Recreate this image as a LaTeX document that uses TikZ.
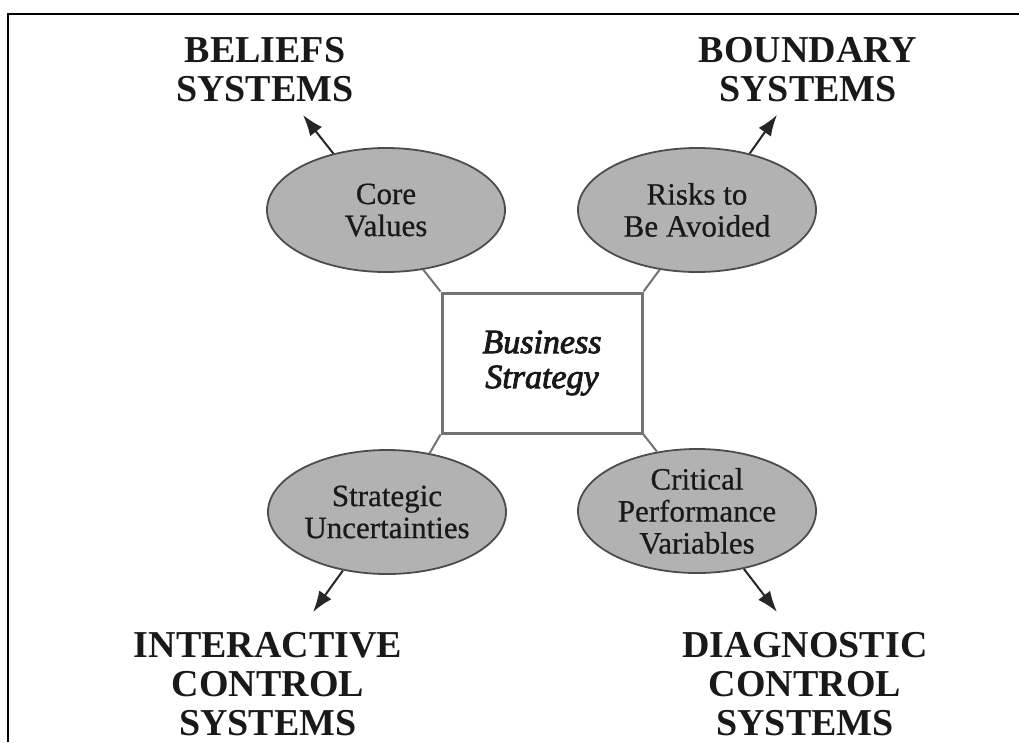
\documentclass[tikz,border=0pt]{standalone}
\usepackage{fontspec}
\setmainfont{Liberation Serif}
\newfontface\strategyfont[FakeBold=2.5]{Liberation Serif Italic}
\newfontface\leverfont[FakeBold=0.6]{Liberation Serif}
\usetikzlibrary{shapes.geometric,arrows.meta}
\begin{document}
\begin{tikzpicture}[x=1pt,y=-1pt,
  lever/.style={ellipse, draw=black!70, line width=1.8pt, fill=black!30,
    minimum width=238pt, minimum height=124pt, inner sep=0pt, align=center,
    font=\leverfont\fontsize{31}{32}\selectfont, text=black!90},
  heading/.style={align=center, inner sep=0pt,
    font=\fontsize{38}{39}\selectfont\bfseries, text=black!90},
  core/.style={draw=black!55, line width=3pt, fill=white,
    minimum width=200pt, minimum height=140pt, inner sep=0pt, align=center,
    font=\strategyfont\fontsize{34}{35}\selectfont, text=black!90},
  link/.style={draw=black!55, line width=2pt},
  pointer/.style={draw=black!85, line width=2pt, -{Latex[length=21pt,width=15pt]}}
]
\useasboundingbox (0,0) rectangle (1019,742);
\fill[white] (0,0) rectangle (1019,742);
% frame
\draw[line width=2pt] (8,742) -- (8,14) -- (1019,14);

% central strategy box
\node[core] (strategy) at (542,363) {Business\\Strategy};

% four levers
\node[lever] (values) at (386,210) {Core\\Values};
\node[lever] (risks) at (697,210) {Risks to\\Be Avoided};
\node[lever] (uncert) at (387,512) {Strategic\\Uncertainties};
\node[lever] (cpv) at (697,511) {Critical\\Performance\\Variables};

% control systems
\node[heading] (beliefs) at (265,70) {BELIEFS\\SYSTEMS};
\node[heading] (boundary) at (808,70) {BOUNDARY\\SYSTEMS};
\node[heading] (interactive) at (268,684) {INTERACTIVE\\CONTROL\\SYSTEMS};
\node[heading] (diagnostic) at (805,684) {DIAGNOSTIC\\CONTROL\\SYSTEMS};

% arrow tips
\coordinate (bt) at (303,115);
\coordinate (bd) at (777,115);
\coordinate (it) at (313,612);
\coordinate (dt) at (777,612);

% box to levers
\draw[link] (strategy.north west) -- (values.-58);
\draw[link] (strategy.north east) -- (risks.-122);
\draw[link] (strategy.south west) -- (uncert.54);
\draw[link] (strategy.south east) -- (cpv.124);

% levers to systems
\draw[pointer] (values.133) -- (bt);
\draw[pointer] (risks.47) -- (bd);
\draw[pointer] (uncert.-127) -- (it);
\draw[pointer] (cpv.-51) -- (dt);
\end{tikzpicture}
\end{document}
